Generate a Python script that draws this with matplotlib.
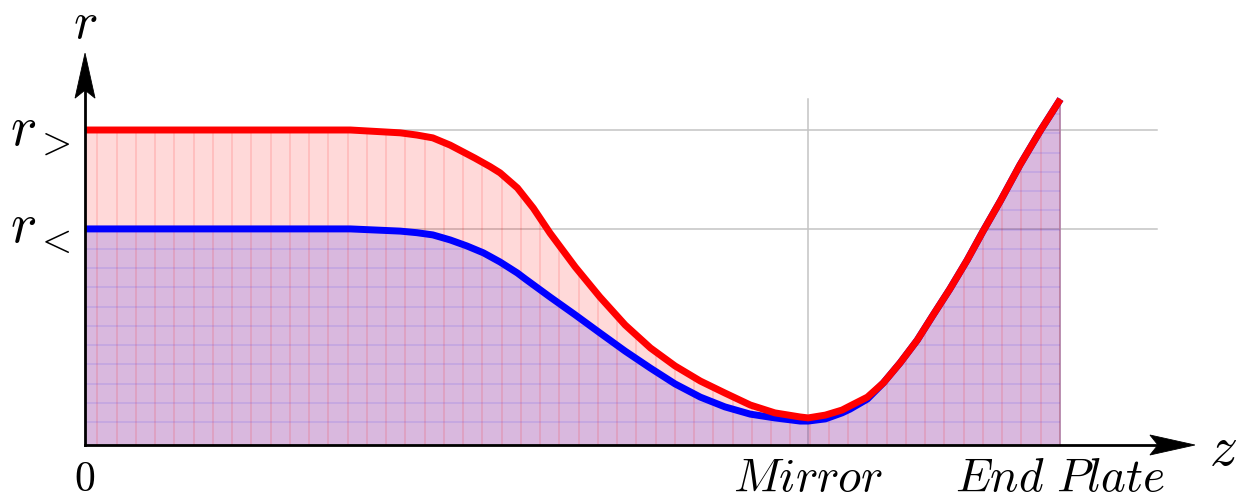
import numpy as np
import matplotlib.pyplot as plt
import matplotlib.transforms as mtransforms
from matplotlib.patches import Polygon

plt.rcParams['mathtext.fontset'] = 'cm'

# outer field line, starts at r_> and ends on the end plate
z_outer = [0.0, 0.159, 0.297, 0.367, 0.436, 0.459, 0.481, 0.505, 0.539,
           0.560, 0.574, 0.586, 0.598, 0.620, 0.643, 0.678, 0.712, 0.747,
           0.782, 0.816, 0.851, 0.885, 0.920, 0.954, 0.989, 1.0, 1.024,
           1.047, 1.058, 1.082, 1.104, 1.127, 1.151, 1.173, 1.196, 1.220,
           1.242, 1.266, 1.293, 1.321, 1.349]
r_outer = [1.0, 1.0, 1.0, 1.0, 0.991, 0.984, 0.975, 0.952, 0.911,
           0.884, 0.864, 0.840, 0.816, 0.752, 0.673, 0.565, 0.470, 0.381,
           0.308, 0.251, 0.203, 0.165, 0.127, 0.102, 0.089, 0.086, 0.095,
           0.111, 0.124, 0.152, 0.197, 0.260, 0.333, 0.413, 0.495, 0.587,
           0.679, 0.775, 0.889, 0.997, 1.098]

# inner field line, starts at r_< and joins the outer one past the mirror
z_inner = [0.0, 0.159, 0.297, 0.367, 0.436, 0.459, 0.481, 0.505, 0.528,
           0.551, 0.574, 0.598, 0.609, 0.643, 0.678, 0.712, 0.747, 0.782,
           0.816, 0.851, 0.885, 0.920, 0.954, 0.989, 1.0, 1.024, 1.047,
           1.058, 1.082, 1.104, 1.127, 1.151, 1.173, 1.196, 1.220, 1.242,
           1.266, 1.293, 1.321, 1.349]
r_inner = [0.686, 0.686, 0.686, 0.686, 0.679, 0.674, 0.667, 0.651, 0.632,
           0.610, 0.581, 0.546, 0.527, 0.470, 0.413, 0.356, 0.298, 0.244,
           0.194, 0.152, 0.121, 0.098, 0.086, 0.076, 0.076, 0.083, 0.102,
           0.114, 0.146, 0.197, 0.260, 0.333, 0.413, 0.495, 0.587, 0.679,
           0.775, 0.889, 0.997, 1.098]

r_ticks = [1.0, 0.686]
r_labels = ['$r_>$', '$r_<$']
z_ticks = [0.0, 1.0, 1.349]
z_labels = ['$0$', '$Mirror$', '$End\\ Plate$']
z_label_sizes = [30, 34, 34]

Z_TIP = 1.535
R_TIP = 1.244
R_TOP = r_outer[-1]

fig = plt.figure(figsize=(12.6, 5), dpi=100)
ax = fig.add_axes([0, 0, 1, 1])
ax.set_xlim(-0.1176, 1.625)
ax.set_ylim(-0.1746, 1.4127)
ax.axis('off')

# thin guide lines
grey = '#c4c4c4'
for r in r_ticks:
    ax.plot([0, 1.483], [r, r], color=grey, lw=1.1, zorder=1)
ax.plot([z_ticks[1], z_ticks[1]], [0, R_TOP], color=grey, lw=1.1, zorder=1)
ax.plot([z_ticks[2], z_ticks[2]], [0, R_TOP], color=grey, lw=1.1, zorder=1)

# shaded regions under both lines
red_fill = ax.fill_between(z_outer, 0, r_outer, color='red', alpha=0.15, lw=0, zorder=2)
blue_fill = ax.fill_between(z_inner, 0, r_inner, color='blue', alpha=0.15, lw=0, zorder=2)

# hatching: vertical strokes under the red line, horizontal under the blue one
dz = 19.25 / 723
dr = 19.25 / 315
xs = np.arange(12.3 / 723, z_ticks[2], dz)
vl = ax.vlines(xs, 0, R_TOP, color='red', alpha=0.12, lw=1.4, zorder=3)
vl.set_clip_path(red_fill.get_paths()[0], transform=ax.transData)
ys = np.arange(23 / 315, R_TOP, dr)
hl = ax.hlines(ys, 0, z_ticks[2], color='blue', alpha=0.09, lw=1.4, zorder=3)
hl.set_clip_path(blue_fill.get_paths()[0], transform=ax.transData)

ax.plot(z_inner, r_inner, color='blue', lw=5.0, solid_capstyle='butt',
        solid_joinstyle='round', zorder=4)
ax.plot(z_outer, r_outer, color='red', lw=5.0, solid_capstyle='butt',
        solid_joinstyle='round', zorder=5)


def arrow_head(x, y, angle):
    tr = (mtransforms.Affine2D().rotate_deg(angle) + fig.dpi_scale_trans
          + mtransforms.ScaledTranslation(x, y, ax.transData))
    verts = [(0, 0), (-0.45, 0.10), (-0.37, 0), (-0.45, -0.10)]
    ax.add_patch(Polygon(verts, closed=True, transform=tr, fc='black',
                         ec='black', lw=0.6, zorder=7, clip_on=False))


# axes with stealth arrows
ax.plot([0, Z_TIP - 0.05], [0, 0], color='black', lw=2.0, zorder=6)
ax.plot([0, 0], [0, R_TIP - 0.11], color='black', lw=2.0, zorder=6)
arrow_head(Z_TIP, 0, 0)
arrow_head(0, R_TIP, 90)

ax.annotate('$r$', (0, R_TIP), xytext=(0, 15), textcoords='offset pixels',
            ha='center', va='baseline', fontsize=37)
ax.annotate('$z$', (Z_TIP, 0), xytext=(28, -20), textcoords='offset pixels',
            ha='center', va='baseline', fontsize=40)

for r, lab in zip(r_ticks, r_labels):
    ax.annotate(lab, (0, r), xytext=(-14, -15), textcoords='offset pixels',
                ha='right', va='baseline', fontsize=40)
for z, lab, fs in zip(z_ticks, z_labels, z_label_sizes):
    ax.annotate(lab, (z, 0), xytext=(0, -46), textcoords='offset pixels',
                ha='center', va='baseline', fontsize=fs)

fig.savefig('out.png', dpi=100)
